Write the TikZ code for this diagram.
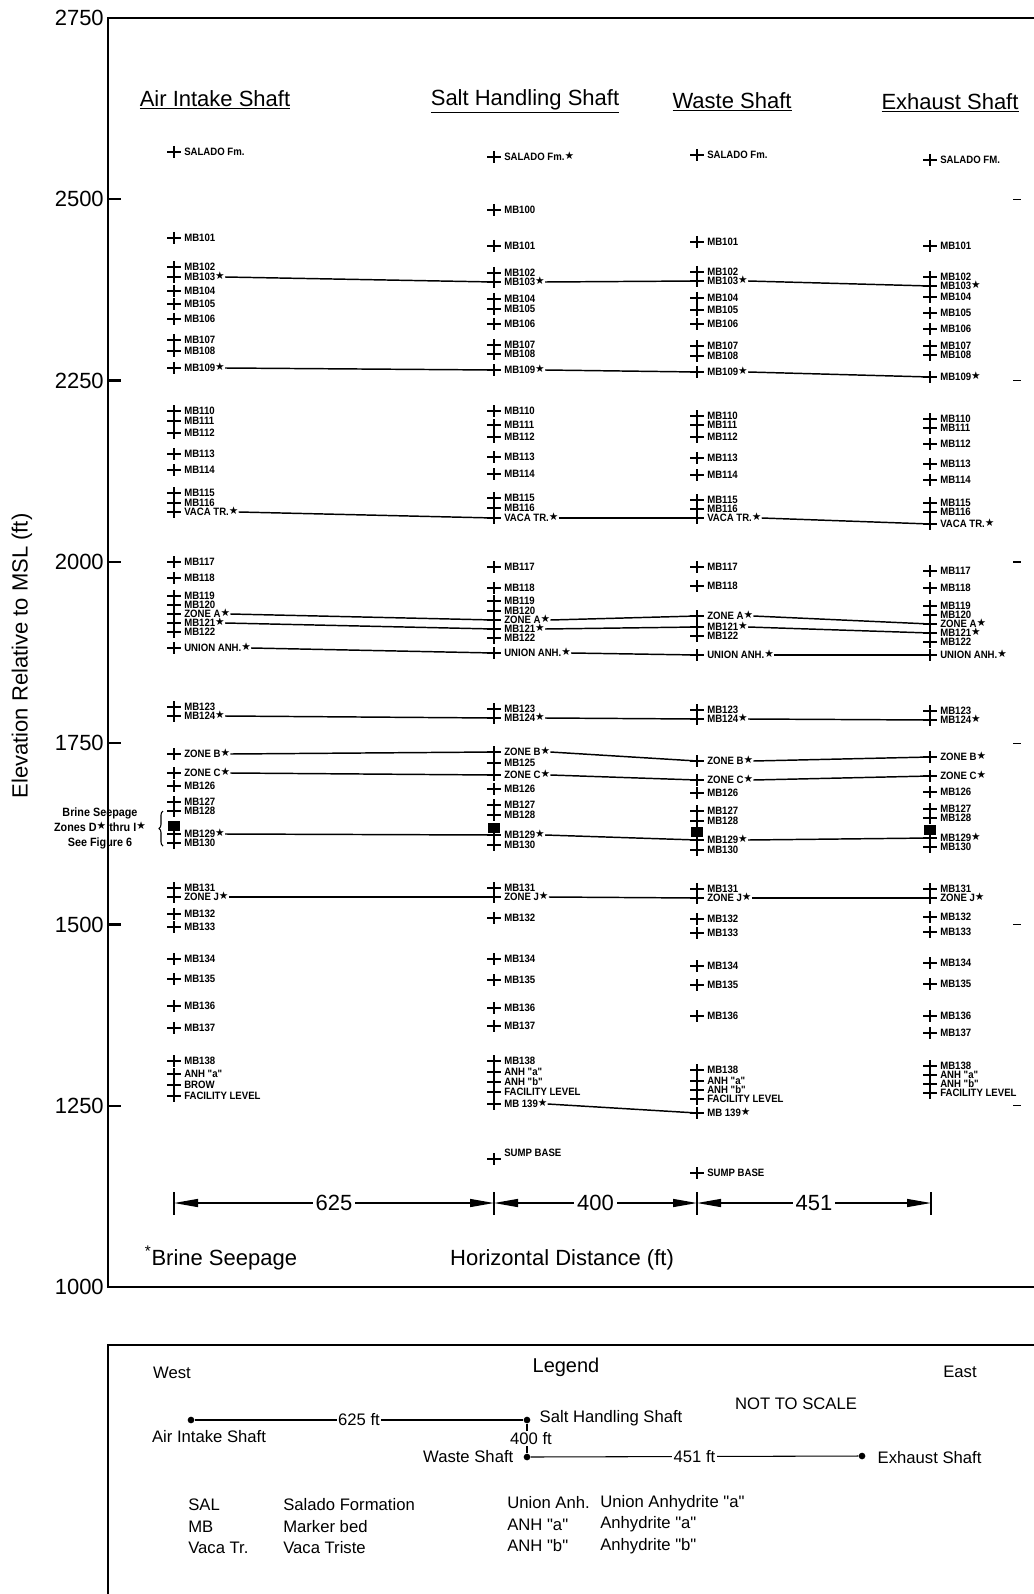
\documentclass[tikz,border=0pt]{standalone}
\usepackage{fontspec}
\setmainfont{Liberation Sans}[Ligatures=TeXOff]
\newfontfamily\labf{Liberation Sans}[Ligatures=TeXOff, FakeStretch=0.9]
\newfontfamily\symf{DejaVu Sans}
\usetikzlibrary{arrows.meta,decorations.pathreplacing}

\newcommand{\st}{\raisebox{.2ex}{\symf\fontsize{8}{8}\selectfont ★}}
% one shaft column: prefix, x of the crosses, list y/name/text
\newcommand{\shaft}[3]{%
\foreach \yy/\nm/\txt in {#3}{
  \draw[crs] (#2-7,\yy) -- (#2+7,\yy) (#2,\yy-6) -- (#2,\yy+6);
  \coordinate (#1\nm-x) at (#2,\yy);
  \node[lab] (#1\nm) at (#2+10,\yy) {\txt};
}}

\begin{document}
\begin{tikzpicture}[x=0.75pt,y=-0.75pt,
crs/.style={line width=1.3pt},
lab/.style={
  anchor=west,
  inner sep=0pt,
  font=\labf\fontsize{8}{8}\selectfont\bfseries,
  text height=5.6pt,
  text depth=0pt
  },
corr/.style={line width=1.1pt},
frm/.style={line width=1.8pt},
big/.style={font=\fontsize{16.5}{19}\selectfont},
leg/.style={font=\fontsize{12.5}{15}\selectfont},
blk/.style={fill=black, inner sep=0pt, minimum width=9pt, minimum height=7pt},
dim/.style={line width=1pt, {Triangle[length=18pt,width=6pt]}-{Triangle[length=18pt,width=6pt]}},
dot/.style={circle, fill=black, inner sep=0pt, minimum size=5pt}
]
\useasboundingbox (0,0) rectangle (1033,1594);

% frame and elevation axis
\draw[frm] (1045,18) -- (108,18) -- (108,1287) -- (1045,1287);
\foreach \e [count=\i from 0] in {2750,2500,2250,2000,1750,1500,1250,1000}
  \node[big, anchor=east, inner sep=0pt] (ev\e) at (104,18+\i*181.3) {\e};
\foreach \i in {1,...,6}{
  \draw[frm] (108,18+\i*181.3) -- (121,18+\i*181.3);
  \draw[line width=1pt] (1013,18+\i*181.3) -- (1021,18+\i*181.3);
}
\node[big, rotate=90] (ytitle) at (22,656) {Elevation Relative to MSL (ft)};

% shaft headings
\node[big] (hai) at (215,100) {\underline{Air Intake Shaft}};
\node[big] (hsh) at (525,101) {\underline{Salt Handling Shaft}};
\node[big] (hws) at (732,102) {\underline{Waste Shaft}};
\node[big] (hex) at (950,103) {\underline{Exhaust Shaft}};

\shaft{ai}{174}{152/sal/{SALADO Fm.}, 238/101/MB101, 267/102/MB102, 277/103/{MB103\st},
  291/104/MB104, 304/105/MB105, 319/106/MB106, 340/107/MB107, 351/108/MB108,
  368/109/{MB109\st}, 411/110/MB110, 421/111/MB111, 433/112/MB112, 454/113/MB113,
  470/114/MB114, 493/115/MB115, 503/116/MB116, 512/vt/{VACA TR.\st},
  562/117/MB117, 578/118/MB118, 596/119/MB119, 605/120/MB120, 614/zA/{ZONE A\st},
  623/121/{MB121\st}, 632/122/MB122, 648/ua/{UNION ANH.\st}, 707/123/MB123,
  716/124/{MB124\st}, 754/zB/{ZONE B\st}, 773/zC/{ZONE C\st}, 786/126/MB126,
  802/127/MB127, 811/128/MB128, 834/129/{MB129\st}, 843/130/MB130,
  888/131/MB131, 897/zJ/{ZONE J\st}, 914/132/MB132, 927/133/MB133, 959/134/MB134,
  979/135/MB135, 1006/136/MB136, 1028/137/MB137, 1061/138/MB138,
  1074/anha/{ANH "a"}, 1085/brow/BROW, 1096/fac/{FACILITY LEVEL}}

\shaft{sh}{494}{157/sal/{SALADO Fm.\st}, 210/100/MB100, 246/101/MB101, 273/102/MB102,
  282/103/{MB103\st}, 299/104/MB104, 309/105/MB105, 324/106/MB106, 345/107/MB107,
  354/108/MB108, 370/109/{MB109\st}, 411/110/MB110, 425/111/MB111, 437/112/MB112,
  457/113/MB113, 474/114/MB114, 498/115/MB115, 508/116/MB116, 518/vt/{VACA TR.\st},
  567/117/MB117, 588/118/MB118, 601/119/MB119, 611/120/MB120, 620/zA/{ZONE A\st},
  629/121/{MB121\st}, 638/122/MB122, 653/ua/{UNION ANH.\st}, 709/123/MB123,
  718/124/{MB124\st}, 752/zB/{ZONE B\st}, 763/125/MB125, 775/zC/{ZONE C\st},
  789/126/MB126, 805/127/MB127, 815/128/MB128, 835/129/{MB129\st}, 845/130/MB130,
  888/131/MB131, 897/zJ/{ZONE J\st}, 918/132/MB132, 959/134/MB134, 980/135/MB135,
  1008/136/MB136, 1026/137/MB137, 1061/138/MB138, 1072/anha/{ANH "a"},
  1082/anhb/{ANH "b"}, 1092/fac/{FACILITY LEVEL}, 1104/139/{MB 139\st}}

\shaft{ws}{697}{155/sal/{SALADO Fm.}, 242/101/MB101, 272/102/MB102, 281/103/{MB103\st},
  298/104/MB104, 310/105/MB105, 324/106/MB106, 346/107/MB107, 356/108/MB108,
  372/109/{MB109\st}, 416/110/MB110, 425/111/MB111, 437/112/MB112, 458/113/MB113,
  475/114/MB114, 500/115/MB115, 509/116/MB116, 518/vt/{VACA TR.\st},
  567/117/MB117, 586/118/MB118, 616/zA/{ZONE A\st}, 627/121/{MB121\st},
  636/122/MB122, 655/ua/{UNION ANH.\st}, 710/123/MB123, 719/124/{MB124\st},
  761/zB/{ZONE B\st}, 780/zC/{ZONE C\st}, 793/126/MB126, 811/127/MB127,
  821/128/MB128, 840/129/{MB129\st}, 850/130/MB130, 889/131/MB131,
  898/zJ/{ZONE J\st}, 919/132/MB132, 933/133/MB133, 966/134/MB134, 985/135/MB135,
  1016/136/MB136, 1070/138/MB138, 1081/anha/{ANH "a"}, 1090/anhb/{ANH "b"},
  1099/fac/{FACILITY LEVEL}, 1113/139/{MB 139\st}}

\shaft{ex}{930}{160/sal/{SALADO FM.}, 246/101/MB101, 277/102/MB102, 286/103/{MB103\st},
  297/104/MB104, 313/105/MB105, 329/106/MB106, 346/107/MB107, 355/108/MB108,
  377/109/{MB109\st}, 419/110/MB110, 428/111/MB111, 444/112/MB112, 464/113/MB113,
  480/114/MB114, 503/115/MB115, 512/116/MB116, 524/vt/{VACA TR.\st},
  571/117/MB117, 588/118/MB118, 606/119/MB119, 615/120/MB120, 624/zA/{ZONE A\st},
  633/121/{MB121\st}, 642/122/MB122, 655/ua/{UNION ANH.\st}, 711/123/MB123,
  720/124/{MB124\st}, 757/zB/{ZONE B\st}, 776/zC/{ZONE C\st}, 792/126/MB126,
  809/127/MB127, 818/128/MB128, 838/129/{MB129\st}, 847/130/MB130,
  889/131/MB131, 898/zJ/{ZONE J\st}, 917/132/MB132, 932/133/MB133, 963/134/MB134,
  984/135/MB135, 1016/136/MB136, 1033/137/MB137, 1066/138/MB138,
  1075/anha/{ANH "a"}, 1084/anhb/{ANH "b"}, 1093/fac/{FACILITY LEVEL}}

% sump bases
\draw[crs] (487,1159) -- (501,1159) (494,1153) -- (494,1165);
\node[lab] (shsump) at (504,1153) {SUMP BASE};
\draw[crs] (690,1173) -- (704,1173) (697,1167) -- (697,1179);
\node[lab] (wssump) at (707,1173) {SUMP BASE};

% brine seepage zones
\node[blk] (aibox) at (174,826) {};
\node[blk] (shbox) at (494,828) {};
\node[blk] (wsbox) at (697,832) {};
\node[blk] (exbox) at (930,830) {};
\draw[line width=0.8pt, decorate, decoration={brace, amplitude=3pt}] (163,846) -- (163,811);
\node[align=center, inner sep=0pt, font=\labf\fontsize{9}{11.3}\selectfont\bfseries] (brine) at (100,828)
  {Brine Seepage\\Zones D\st{} thru I\st\\See Figure 6};

% correlation lines
\foreach \nm in {103,109,vt,zA,121,ua,124,zB,zC,129,zJ}{
  \draw[corr] (ai\nm.east) -- (sh\nm-x);
  \draw[corr] (sh\nm.east) -- (ws\nm-x);
  \draw[corr] (ws\nm.east) -- (ex\nm-x);
}
\draw[corr] (sh139.east) -- (ws139-x);

% horizontal distances
\coordinate (d0) at (174,1203);
\coordinate (d1) at (494,1203);
\coordinate (d2) at (697,1203);
\coordinate (d3) at (931,1203);
\foreach \d in {d0,d1,d2,d3}
  \draw[line width=1pt] (\d) ++(0,-11) -- ++(0,23);
\draw[dim] (d0) -- node[big, fill=white, inner sep=2pt] (l625) {625} (d1);
\draw[dim] (d1) -- node[big, fill=white, inner sep=2pt] (l400) {400} (d2);
\draw[dim] (d2) -- node[big, fill=white, inner sep=2pt] (l451) {451} (d3);

\node[big] (seep) at (221,1258) {\textsuperscript{*}Brine Seepage};
\node[big] (hdist) at (562,1260) {Horizontal Distance (ft)};

% legend
\draw[frm] (1045,1345) -- (108,1345) -- (108,1600);
\node[leg] (west) at (172,1373) {West};
\node[font=\fontsize{15}{18}\selectfont] (legend) at (566,1367) {Legend};
\node[leg] (east) at (960,1372) {East};
\node[leg] (nts) at (796,1404) {NOT TO SCALE};

\node[dot] (lai) at (191,1420) {};
\node[dot] (lsh) at (527,1420) {};
\node[dot] (lws) at (527,1457) {};
\node[dot] (lex) at (862,1456) {};
\draw[line width=0.8pt] (lai) -- node[leg, fill=white, inner sep=1pt] (l625ft) {625 ft} (lsh);
\draw[line width=0.8pt] (lws) -- node[leg, fill=white, inner sep=1pt] (l451ft) {451 ft} (lex);
\draw[line width=0.8pt] (lsh) -- node[leg, fill=white, inner sep=1pt, xshift=3pt] (l400ft) {400 ft} (lws);
\node[leg, anchor=west] (nsh) at (535,1418) {Salt Handling Shaft};
\node[leg] (nai) at (209,1437) {Air Intake Shaft};
\node[leg, anchor=east] (nws) at (518,1457) {Waste Shaft};
\node[leg, anchor=west] (nex) at (873,1458) {Exhaust Shaft};

\foreach \ab/\full [count=\i from 0] in {SAL/{Salado Formation}, MB/{Marker bed}, {Vaca Tr.}/{Vaca Triste}}{
  \node[leg, anchor=west, inner sep=0pt] (ab\i) at (188,1505+\i*21.5) {\ab};
  \node[leg, anchor=west, inner sep=0pt] (fu\i) at (283,1505+\i*21.5) {\full};
}
\foreach \ab/\full [count=\i from 0] in {{Union Anh.}/{Union Anhydrite "a"}, {ANH "a"}/{Anhydrite "a"}, {ANH "b"}/{Anhydrite "b"}}{
  \node[leg, anchor=west, inner sep=0pt] (ub\i) at (507,1503+\i*21.5) {\ab};
  \node[leg, anchor=west, inner sep=0pt] (uf\i) at (600,1503+\i*21.5) {\full};
}
\end{tikzpicture}
\end{document}
